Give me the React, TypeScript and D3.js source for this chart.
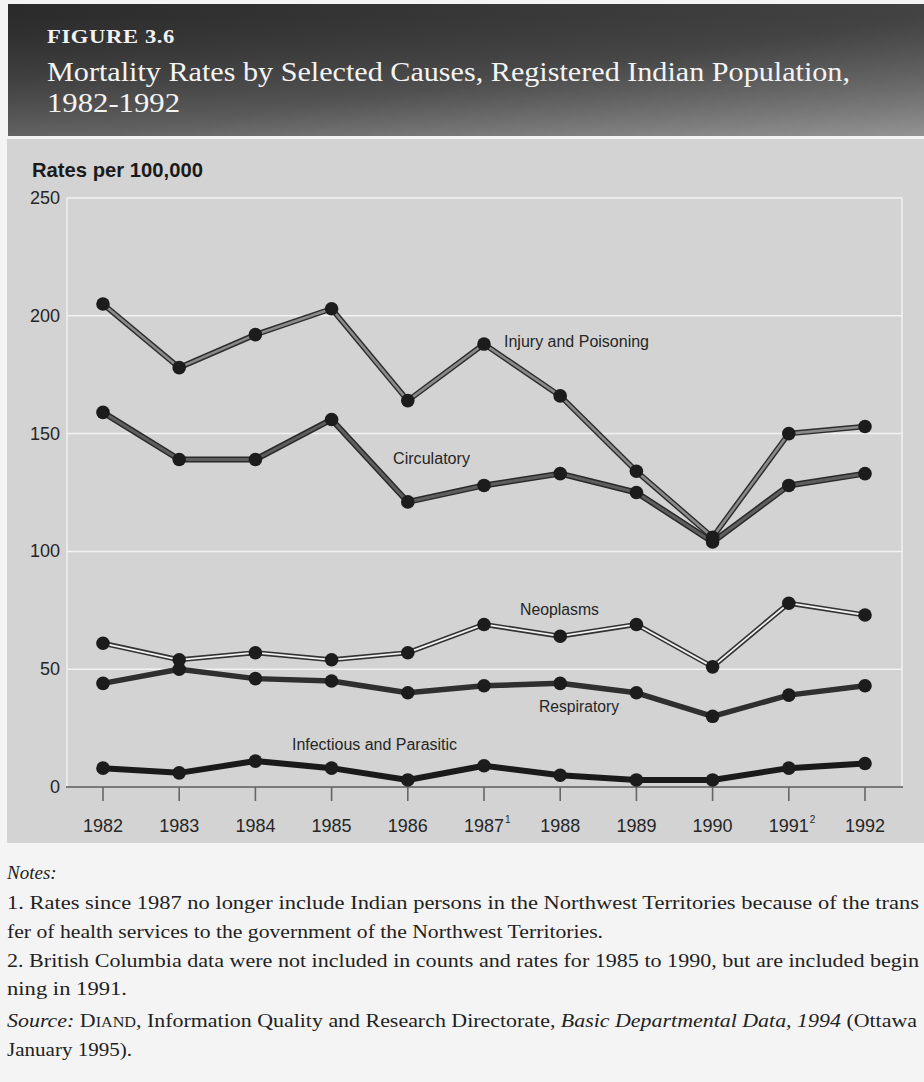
import React from "react";
import * as d3 from "d3";

const years = ["1982", "1983", "1984", "1985", "1986", "1987", "1988", "1989", "1990", "1991", "1992"];
const yearSup = ["", "", "", "", "", "1", "", "", "", "2", ""];
const yTicks = [0, 50, 100, 150, 200, 250];

const injury = [205, 178, 192, 203, 164, 188, 166, 134, 106, 150, 153];
const circulatory = [159, 139, 139, 156, 121, 128, 133, 125, 104, 128, 133];
const neoplasms = [61, 54, 57, 54, 57, 69, 64, 69, 51, 78, 73];
const respiratory = [44, 50, 46, 45, 40, 43, 44, 40, 30, 39, 43];
const infectious = [8, 6, 11, 8, 3, 9, 5, 3, 3, 8, 10];

const seriesNames = ["Injury and Poisoning", "Circulatory", "Neoplasms", "Respiratory", "Infectious and Parasitic"];

const notes = [
  "1. Rates since 1987 no longer include Indian persons in the Northwest Territories because of the trans",
  "fer of health services to the government of the Northwest Territories.",
  "2. British Columbia data were not included in counts and rates for 1985 to 1990, but are included begin",
  "ning in 1991.",
];

const W = 924;
const H = 1082;

export default function App() {
  const x = d3.scalePoint<string>().domain(years).range([103, 865]);
  const y = d3.scaleLinear().domain([0, 250]).range([787, 198]);
  const line = d3
    .line<number>()
    .x((_, i) => x(years[i]) as number)
    .y((d) => y(d));

  const styles = [
    { data: injury, outer: "#2e2e2e", ow: 5.5, inner: "#8a8a8a", iw: 2.6 },
    { data: circulatory, outer: "#2a2a2a", ow: 6, inner: "#5e5e5e", iw: 3 },
    { data: neoplasms, outer: "#333", ow: 5, inner: "#f2f2f2", iw: 1.8 },
    { data: respiratory, outer: "#2f2f2f", ow: 5.5, inner: null, iw: 0 },
    { data: infectious, outer: "#1a1a1a", ow: 6, inner: null, iw: 0 },
  ];

  const sans = "'Liberation Sans Narrow', 'Arial Narrow', 'Liberation Sans', Arial, sans-serif";
  const serif = "'Liberation Serif', 'Times New Roman', serif";

  const labels = [
    { text: seriesNames[0], x: 504, y: 347, len: 145 },
    { text: seriesNames[1], x: 393, y: 464, len: 77 },
    { text: seriesNames[2], x: 520, y: 615, len: 79 },
    { text: seriesNames[3], x: 539, y: 712, len: 80 },
    { text: seriesNames[4], x: 292, y: 750, len: 165 },
  ];

  return (
    <svg
      width={W}
      height={H}
      style={{ position: "absolute", left: 0, top: 0, display: "block" }}
      xmlns="http://www.w3.org/2000/svg"
    >
      <defs>
        <linearGradient id="tb" x1="0" y1="0" x2="1" y2="1">
          <stop offset="0" stopColor="#2a2a2a" />
          <stop offset="0.55" stopColor="#444" />
          <stop offset="1" stopColor="#7c7c7c" />
        </linearGradient>
        <linearGradient id="tb2" x1="0" y1="0" x2="0" y2="1">
          <stop offset="0" stopColor="#000" stopOpacity="0" />
          <stop offset="1" stopColor="#fff" stopOpacity="0.18" />
        </linearGradient>
      </defs>
      <rect x={0} y={0} width={W} height={H} fill="#f4f4f4" />
      {/* title bar */}
      <rect x={8} y={4} width={W - 8} height={132} fill="url(#tb)" />
      <rect x={8} y={4} width={W - 8} height={132} fill="url(#tb2)" />
      <text x={47} y={43} fill="#f2f2f2" fontFamily={serif} fontSize={19} fontWeight="600" letterSpacing={0.5} textLength={128} lengthAdjust="spacingAndGlyphs">
        FIGURE 3.6
      </text>
      <text x={47} y={81} fill="#f4f4f4" fontFamily={serif} fontSize={27} textLength={803} lengthAdjust="spacingAndGlyphs">
        Mortality Rates by Selected Causes, Registered Indian Population,
      </text>
      <text x={47} y={112} fill="#f4f4f4" fontFamily={serif} fontSize={27} textLength={133} lengthAdjust="spacingAndGlyphs">
        1982-1992
      </text>

      {/* chart panel */}
      <rect x={7} y={139} width={W - 7} height={704} fill="#d3d3d3" />

      {/* gridlines */}
      {yTicks.map((t) => (
        <line key={"g" + t} x1={67} x2={902} y1={y(t)} y2={y(t)} stroke="#f2f2f2" strokeWidth={1.5} />
      ))}
      <line x1={67} x2={67} y1={y(250)} y2={y(0)} stroke="#f2f2f2" strokeWidth={1.5} />
      <line x1={902} x2={902} y1={y(250)} y2={y(0)} stroke="#f2f2f2" strokeWidth={1.5} />

      {/* x axis */}
      <line x1={66} x2={903} y1={y(0)} y2={y(0)} stroke="#555" strokeWidth={1.6} />
      {years.map((yr, i) => (
        <g key={"xt" + yr}>
          <line x1={x(yr)} x2={x(yr)} y1={y(0)} y2={y(0) + 14} stroke="#666" strokeWidth={1.6} />
          <text x={x(yr)} y={832} textAnchor="middle" fontFamily={sans} fontSize={19} fill="#262626" textLength={40} lengthAdjust="spacingAndGlyphs">
            {yr}
          </text>
          {yearSup[i] && (
            <text x={(x(yr) as number) + 21} y={823} fontFamily={sans} fontSize={10} fill="#262626">
              {yearSup[i]}
            </text>
          )}
        </g>
      ))}

      {/* y tick labels */}
      {yTicks.map((t) => (
        <text key={"yt" + t} x={60} y={y(t) + 6} textAnchor="end" fontFamily={sans} fontSize={18} fill="#262626">
          {t}
        </text>
      ))}
      <text x={32} y={177} fontFamily={sans} fontSize={21} fontWeight="bold" fill="#1a1a1a" textLength={171} lengthAdjust="spacingAndGlyphs">
        Rates per 100,000
      </text>

      {/* series */}
      {styles
        .slice()
        .reverse()
        .map((s, k) => (
          <g key={"s" + k}>
            <path d={line(s.data) || ""} fill="none" stroke={s.outer} strokeWidth={s.ow} strokeLinejoin="round" />
            {s.inner && (
              <path d={line(s.data) || ""} fill="none" stroke={s.inner} strokeWidth={s.iw} strokeLinejoin="round" />
            )}
            {s.data.map((v, i) => (
              <circle key={i} cx={x(years[i])} cy={y(v)} r={6.8} fill="#1c1c1c" />
            ))}
          </g>
        ))}

      {/* series labels */}
      {labels.map((l) => (
        <text key={l.text} x={l.x} y={l.y} fontFamily={sans} fontSize={16} fill="#262626" textLength={l.len} lengthAdjust="spacingAndGlyphs">
          {l.text}
        </text>
      ))}

      {/* notes */}
      <text x={7} y={879} fontFamily={serif} fontSize={19} fontStyle="italic" fill="#222">
        Notes:
      </text>
      <text x={7} y={909} fontFamily={serif} fontSize={19} fill="#222" textLength={912} lengthAdjust="spacingAndGlyphs">
        {notes[0]}
      </text>
      <text x={7} y={938} fontFamily={serif} fontSize={19} fill="#222" textLength={596} lengthAdjust="spacingAndGlyphs">
        {notes[1]}
      </text>
      <text x={7} y={967} fontFamily={serif} fontSize={19} fill="#222" textLength={912} lengthAdjust="spacingAndGlyphs">
        {notes[2]}
      </text>
      <text x={7} y={995} fontFamily={serif} fontSize={19} fill="#222" textLength={120} lengthAdjust="spacingAndGlyphs">
        {notes[3]}
      </text>
      <text x={7} y={1027} fontFamily={serif} fontSize={19} fill="#222" textLength={910} lengthAdjust="spacingAndGlyphs">
        <tspan fontStyle="italic">Source:</tspan>
        <tspan> D</tspan>
        <tspan fontSize={14}>IAND</tspan>
        <tspan>, Information Quality and Research Directorate, </tspan>
        <tspan fontStyle="italic">Basic Departmental Data, 1994</tspan>
        <tspan> (Ottawa</tspan>
      </text>
      <text x={7} y={1056} fontFamily={serif} fontSize={19} fill="#222" textLength={125} lengthAdjust="spacingAndGlyphs">
        January 1995).
      </text>
    </svg>
  );
}
